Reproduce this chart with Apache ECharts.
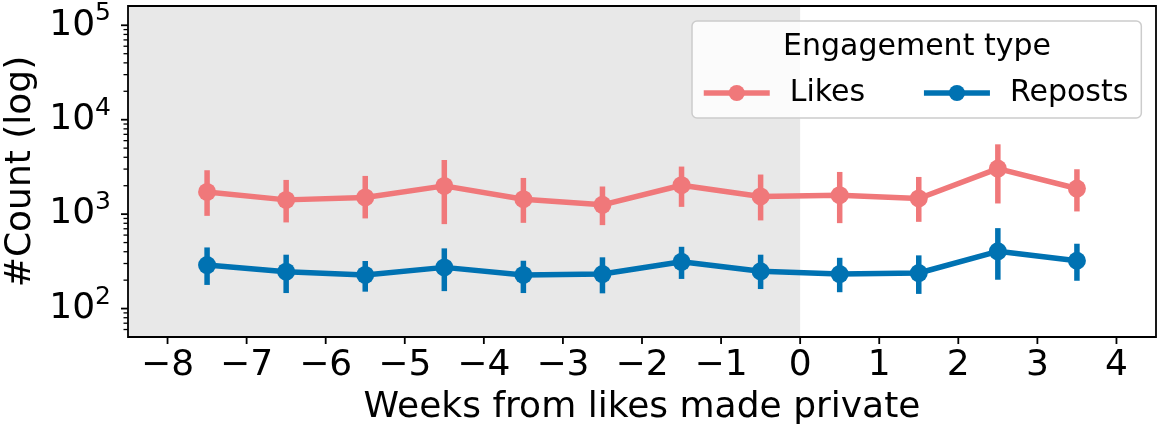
<!DOCTYPE html>
<html>
<head>
<meta charset="utf-8">
<script src="https://cdn.jsdelivr.net/npm/echarts@6/dist/echarts.min.js"></script>
<style>
html,body{margin:0;padding:0;background:#fff;}
#chart{width:1163px;height:436px;}
</style>
</head>
<body>
<div id="chart"></div>
<script>
const weeks = [-7.5, -6.5, -5.5, -4.5, -3.5, -2.5, -1.5, -0.5, 0.5, 1.5, 2.5, 3.5];
const likes = [1720, 1416, 1501, 1991, 1440, 1254, 2024, 1538, 1587, 1465, 3039, 1868];
const likesLow = [959, 817, 901, 784, 809, 765, 1194, 858, 803, 829, 1297, 1068];
const likesHigh = [2917, 2303, 2539, 3746, 2417, 1962, 3190, 2627, 2798, 2477, 5488, 2988];
const reposts = [289, 246, 227, 273, 227, 232, 313, 248, 232, 238, 404, 321];
const repostsLow = [178, 146, 151, 153, 146, 145, 206, 161, 149, 143, 202, 197];
const repostsHigh = [444, 372, 319, 434, 321, 349, 451, 372, 345, 366, 711, 486];
const xTicks = [-8, -7, -6, -5, -4, -3, -2, -1, 0, 1, 2, 3, 4];
const yMajorTicks = [100, 1000, 10000, 100000];
const yMinorTicks = [60, 70, 80, 90, 200, 300, 400, 500, 600, 700, 800, 900,
  2000, 3000, 4000, 5000, 6000, 7000, 8000, 9000,
  20000, 30000, 40000, 50000, 60000, 70000, 80000, 90000];
const seriesNames = ['Likes', 'Reposts'];
const legendTitle = 'Engagement type';
const xName = 'Weeks from likes made private';
const yName = '#Count (log)';
const xMin = -8.5, xMax = 4.5, yMin = 50, yMax = 160000;
const shadeRange = [-8.5, 0];

const FONT = 'DejaVu Sans';
const LIKE_C = '#f0787a';
const REP_C = '#0072b2';

const chart = echarts.init(document.getElementById('chart'), null, {renderer: 'canvas'});

function errSeries(name, color, lo, hi) {
  return {
    name: name, type: 'custom', z: 2,
    data: weeks.map((w, i) => [w, lo[i], hi[i]]),
    encode: {x: 0, y: [1, 2]},
    renderItem: function (params, api) {
      const a = api.coord([api.value(0), api.value(1)]);
      const b = api.coord([api.value(0), api.value(2)]);
      return {type: 'line', shape: {x1: a[0], y1: a[1], x2: b[0], y2: b[1]},
        style: {stroke: color, lineWidth: 5.5, lineCap: 'butt'}};
    }
  };
}

const tickData = [];
xTicks.forEach(v => tickData.push([v, yMin, 0]));
yMajorTicks.forEach(v => tickData.push([xMin, v, 1]));
yMinorTicks.forEach(v => tickData.push([xMin, v, 2]));

const option = {
  animation: false,
  textStyle: {fontFamily: FONT},
  grid: {left: 128, right: 7, top: 6, bottom: 99, show: true, borderColor: '#000', borderWidth: 1.8, z: 10,
    containLabel: false, outerBoundsMode: 'none'},
  xAxis: {
    type: 'value', min: xMin, max: xMax, interval: 0.5,
    axisLine: {show: false}, axisTick: {show: false}, splitLine: {show: false},
    axisLabel: {
      fontSize: 36, color: '#000', fontFamily: FONT, margin: 11,
      formatter: function (v) {
        if (Math.abs(v - Math.round(v)) > 1e-6) return '';
        v = Math.round(v);
        return v < 0 ? '\u2212' + Math.abs(v) : String(v);
      }
    },
    name: xName, nameLocation: 'middle', nameGap: 53,
    nameTextStyle: {fontSize: 36, color: '#000', fontFamily: FONT}
  },
  yAxis: {
    type: 'log', logBase: 10, min: yMin, max: yMax,
    axisLine: {show: false}, axisTick: {show: false}, splitLine: {show: false}, minorTick: {show: false},
    axisLabel: {
      margin: 17, color: '#000', padding: [0, 0, 6, 0],
      formatter: function (v) {
        const l = Math.log10(v);
        const e = Math.round(l);
        if (Math.abs(l - e) > 1e-6) return '';
        return '{b|10}{s|' + e + '}';
      },
      rich: {
        b: {fontSize: 36, fontFamily: FONT, color: '#000', lineHeight: 42, verticalAlign: 'bottom'},
        s: {fontSize: 25, fontFamily: FONT, color: '#000', lineHeight: 25, verticalAlign: 'top'}
      }
    },
    name: yName, nameLocation: 'middle', nameGap: 88, nameRotate: 90,
    nameTextStyle: {fontSize: 36, color: '#000', fontFamily: FONT}
  },
  legend: {
    data: seriesNames,
    left: 692, top: 21,
    padding: [57, 13, 10, 9],
    itemWidth: 66, itemHeight: 20, itemGap: 56,
    backgroundColor: 'rgba(255,255,255,0.8)',
    borderColor: '#cccccc', borderWidth: 1.5, borderRadius: 5,
    lineStyle: {width: 5.5},
    textStyle: {fontSize: 30, color: '#000', fontFamily: FONT, padding: [0, 0, 0, 15]},
    selectedMode: false
  },
  graphic: [{
    type: 'text', x: 917, y: 47, z: 100,
    style: {text: legendTitle, font: '30px "DejaVu Sans"', fill: '#000', textAlign: 'center', textVerticalAlign: 'middle'}
  }],
  series: [
    {
      name: 'shade', type: 'line', data: [], z: 0,
      markArea: {silent: true, itemStyle: {color: '#e8e8e8'}, data: [[{xAxis: shadeRange[0]}, {xAxis: shadeRange[1]}]]}
    },
    {
      name: 'ticks', type: 'custom', z: 1, silent: true,
      data: tickData,
      renderItem: function (params, api) {
        const p = api.coord([api.value(0), api.value(1)]);
        const k = api.value(2);
        let shape;
        if (k === 0) shape = {x1: p[0], y1: p[1], x2: p[0], y2: p[1] + 7};
        else if (k === 1) shape = {x1: p[0] - 7, y1: p[1], x2: p[0], y2: p[1]};
        else shape = {x1: p[0] - 4.5, y1: p[1], x2: p[0], y2: p[1]};
        return {type: 'line', shape: shape, style: {stroke: '#000', lineWidth: k === 2 ? 1.3 : 1.8}};
      }
    },
    errSeries('LikesErr', LIKE_C, likesLow, likesHigh),
    {
      name: seriesNames[0], type: 'line', z: 3,
      data: weeks.map((w, i) => [w, likes[i]]),
      symbol: 'circle', symbolSize: 18, showSymbol: true,
      itemStyle: {color: LIKE_C}, lineStyle: {color: LIKE_C, width: 5.5}
    },
    errSeries('RepostsErr', REP_C, repostsLow, repostsHigh),
    {
      name: seriesNames[1], type: 'line', z: 3,
      data: weeks.map((w, i) => [w, reposts[i]]),
      symbol: 'circle', symbolSize: 18, showSymbol: true,
      itemStyle: {color: REP_C}, lineStyle: {color: REP_C, width: 5.5}
    }
  ]
};
chart.setOption(option);
</script>
</body>
</html>
